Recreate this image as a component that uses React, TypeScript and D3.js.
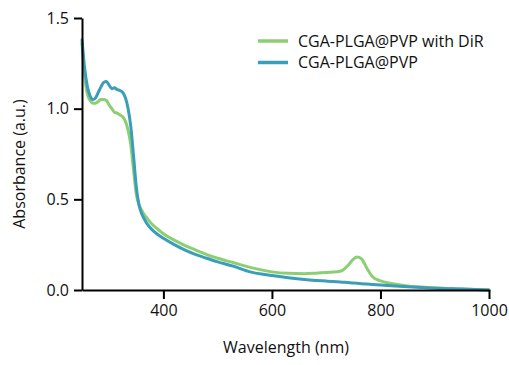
import { useEffect, useRef } from "react";
import * as d3 from "d3";

// Longitudes de onda (nm) compartidas por ambas series
const wavelengths = [
  250, 255, 260, 265, 270, 275, 280, 285, 290, 295, 300, 305, 310, 315, 320, 325, 330, 335,
  340, 345, 350, 355, 360, 365, 370, 380, 390, 400, 420, 440, 460, 480, 500, 530, 560, 600,
  630, 660, 680, 700, 720, 730, 740, 750, 757, 765, 775, 785, 800, 820, 850, 900, 950, 1000,
];

const withDiR = [
  1.36, 1.18, 1.08, 1.045, 1.03, 1.03, 1.04, 1.05, 1.05, 1.045, 1.02, 1.0, 0.98, 0.975, 0.965,
  0.955, 0.93, 0.88, 0.8, 0.66, 0.53, 0.47, 0.44, 0.415, 0.395, 0.36, 0.335, 0.31, 0.275,
  0.245, 0.22, 0.195, 0.175, 0.15, 0.125, 0.1, 0.092, 0.09, 0.093, 0.097, 0.1, 0.108, 0.135,
  0.17, 0.182, 0.172, 0.12, 0.075, 0.05, 0.036, 0.022, 0.012, 0.005, 0.0,
];

const plain = [
  1.38, 1.22, 1.12, 1.07, 1.05, 1.06, 1.09, 1.12, 1.145, 1.15, 1.13, 1.11, 1.115, 1.105, 1.1,
  1.09, 1.06, 1.0, 0.9, 0.74, 0.57, 0.47, 0.42, 0.39, 0.365, 0.33, 0.305, 0.285, 0.25, 0.22,
  0.195, 0.175, 0.155, 0.13, 0.1, 0.08, 0.068, 0.058, 0.053, 0.049, 0.045, 0.043, 0.041,
  0.039, 0.037, 0.035, 0.033, 0.031, 0.028, 0.024, 0.018, 0.01, 0.005, 0.0,
];

const seriesNames = ["CGA-PLGA@PVP with DiR", "CGA-PLGA@PVP"];
const seriesColors = ["#8ccf72", "#3b9db8"];
const xTicks = [400, 600, 800, 1000];
const yTicks = [0, 0.5, 1.0, 1.5];

const FONT = "'Open Sans', sans-serif";

const App = () => {
  const ref = useRef<SVGSVGElement | null>(null);

  useEffect(() => {
    if (!ref.current) return;
    const svg = d3.select(ref.current);
    svg.selectAll("*").remove();

    const x = d3.scaleLinear().domain([250, 1000]).range([82, 489]);
    const y = d3.scaleLinear().domain([0, 1.5]).range([290, 18]);

    const line = d3
      .line<[number, number]>()
      .x((d) => x(d[0]))
      .y((d) => y(d[1]))
      .curve(d3.curveMonotoneX);

    // Curvas: primero la verde, la azul encima
    [withDiR, plain].forEach((vals, i) => {
      const pts = wavelengths.map((w, j) => [w, vals[j]] as [number, number]);
      svg
        .append("path")
        .attr("d", line(pts))
        .attr("fill", "none")
        .attr("stroke", seriesColors[i])
        .attr("stroke-width", 3)
        .attr("stroke-linejoin", "round")
        .attr("stroke-linecap", "round");
    });

    // Ejes
    const gx = svg
      .append("g")
      .attr("transform", `translate(0,${y(0)})`)
      .call(
        d3
          .axisBottom(x)
          .tickValues(xTicks)
          .tickSize(9)
          .tickPadding(6)
          .tickSizeOuter(0)
          .tickFormat(d3.format("d"))
      );
    const gy = svg
      .append("g")
      .attr("transform", `translate(${x(250)},0)`)
      .call(
        d3
          .axisLeft(y)
          .tickValues(yTicks)
          .tickSize(8)
          .tickPadding(5)
          .tickSizeOuter(0)
          .tickFormat(d3.format(".1f"))
      );

    [gx, gy].forEach((g) => {
      g.select(".domain").attr("stroke", "#000").attr("stroke-width", 2);
      g.selectAll(".tick line").attr("stroke", "#000").attr("stroke-width", 2);
      g.selectAll(".tick text")
        .attr("fill", "#111")
        .style("font-family", FONT)
        .style("font-size", "16px");
    });

    // Títulos de ejes
    svg
      .append("text")
      .attr("x", 286)
      .attr("y", 353)
      .attr("text-anchor", "middle")
      .style("font-family", FONT)
      .style("font-size", "16px")
      .attr("fill", "#111")
      .text("Wavelength (nm)");

    svg
      .append("text")
      .attr("transform", "translate(25,164) rotate(-90)")
      .attr("text-anchor", "middle")
      .style("font-family", FONT)
      .style("font-size", "16px")
      .attr("fill", "#111")
      .text("Absorbance (a.u.)");

    // Leyenda
    seriesNames.forEach((name, i) => {
      const ly = 41 + i * 21.5;
      svg
        .append("line")
        .attr("x1", 258)
        .attr("x2", 288)
        .attr("y1", ly)
        .attr("y2", ly)
        .attr("stroke", seriesColors[i])
        .attr("stroke-width", 3.5);
      svg
        .append("text")
        .attr("x", 298)
        .attr("y", ly)
        .attr("dy", "0.35em")
        .style("font-family", FONT)
        .style("font-size", "16px")
        .attr("fill", "#111")
        .text(name);
    });
  }, []);

  return (
    <svg
      ref={ref}
      width={509}
      height={365}
      style={{ position: "absolute", left: 0, top: 0, background: "#fff" }}
    />
  );
};

export default App;
